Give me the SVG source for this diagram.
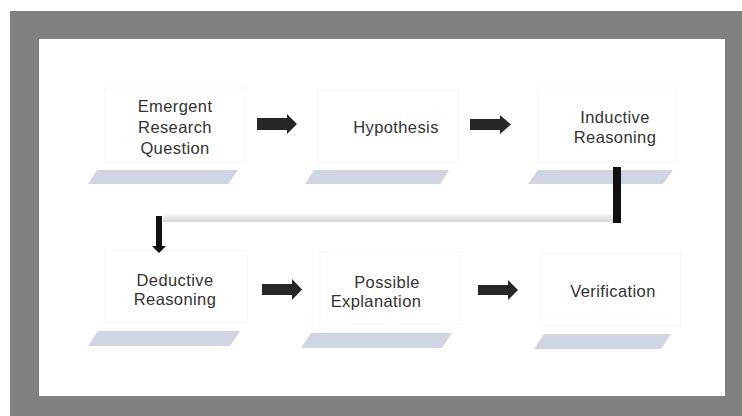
<svg xmlns="http://www.w3.org/2000/svg" width="742" height="416" viewBox="0 0 742 416">
  <defs>
    <linearGradient id="barGrad" x1="0" y1="0" x2="0" y2="1">
      <stop offset="0" stop-color="#f6f6f6"/>
      <stop offset="1" stop-color="#d6d6d6"/>
    </linearGradient>
    <style>
      .box { fill: #ffffff; stroke: #f8f8f8; stroke-width: 1.5; }
      .shadow { fill: #d0d5e3; }
      .label { font-family: "Liberation Sans", Arial, sans-serif; font-size: 16.5px; fill: #333333; text-anchor: middle; letter-spacing: 0.4px; }
      .arrow { fill: #262626; }
    </style>
  </defs>

  <rect x="0" y="0" width="742" height="416" fill="#ffffff"/>
  <rect x="10" y="11" width="732" height="405" fill="#808080"/>
  <rect x="39" y="39" width="686" height="357" fill="#ffffff"/>

  <g id="node-emergent">
    <rect class="box" x="105" y="88" width="140" height="74"/>
    <polygon class="shadow" points="97,170 238,170 228,184 88,184"/>
    <text class="label" x="175" y="112">Emergent</text>
    <text class="label" x="175" y="133">Research</text>
    <text class="label" x="175" y="154">Question</text>
  </g>

  <g id="node-hypothesis">
    <rect class="box" x="318" y="90" width="140" height="72"/>
    <polygon class="shadow" points="314,170 449,170 440,184 305,184"/>
    <text class="label" x="396" y="133">Hypothesis</text>
  </g>

  <g id="node-inductive">
    <rect class="box" x="538" y="88" width="138" height="74"/>
    <polygon class="shadow" points="538,170 673,170 663,184 528,184"/>
    <text class="label" x="615" y="123">Inductive</text>
    <text class="label" x="615" y="143">Reasoning</text>
  </g>

  <g id="node-deductive">
    <rect class="box" x="105" y="250" width="142" height="72"/>
    <polygon class="shadow" points="98,331 240,331 230,346 88,346"/>
    <text class="label" x="175" y="286">Deductive</text>
    <text class="label" x="175" y="305">Reasoning</text>
  </g>

  <g id="node-possible">
    <rect class="box" x="320" y="252" width="140" height="72"/>
    <polygon class="shadow" points="311,333 452,333 442,348 301,348"/>
    <text class="label" x="387" y="288">Possible</text>
    <text class="label" x="376" y="307">Explanation</text>
  </g>

  <g id="node-verification">
    <rect class="box" x="541" y="254" width="140" height="72"/>
    <polygon class="shadow" points="544,334 671,334 661,349 534,349"/>
    <text class="label" x="613" y="297">Verification</text>
  </g>

  <g id="connectors">
    <polygon class="arrow" points="257,118 287,118 287,114 297,124 287,134 287,130 257,130"/>
    <polygon class="arrow" points="470,119 500,119 500,115 511,124.5 500,134 500,130 470,130"/>
    <polygon class="arrow" points="262,284 292,284 292,279 302,289.5 292,300 292,295 262,295"/>
    <polygon class="arrow" points="478,285 508,285 508,280 518,290 508,300 508,295 478,295"/>
    <rect x="163" y="214" width="451" height="8" fill="url(#barGrad)"/>
    <rect x="613" y="167" width="8" height="56" fill="#111111"/>
    <polygon fill="#111111" points="156,216 162,216 162,246 166,246 159,253 152,246 156,246"/>
  </g>
</svg>
